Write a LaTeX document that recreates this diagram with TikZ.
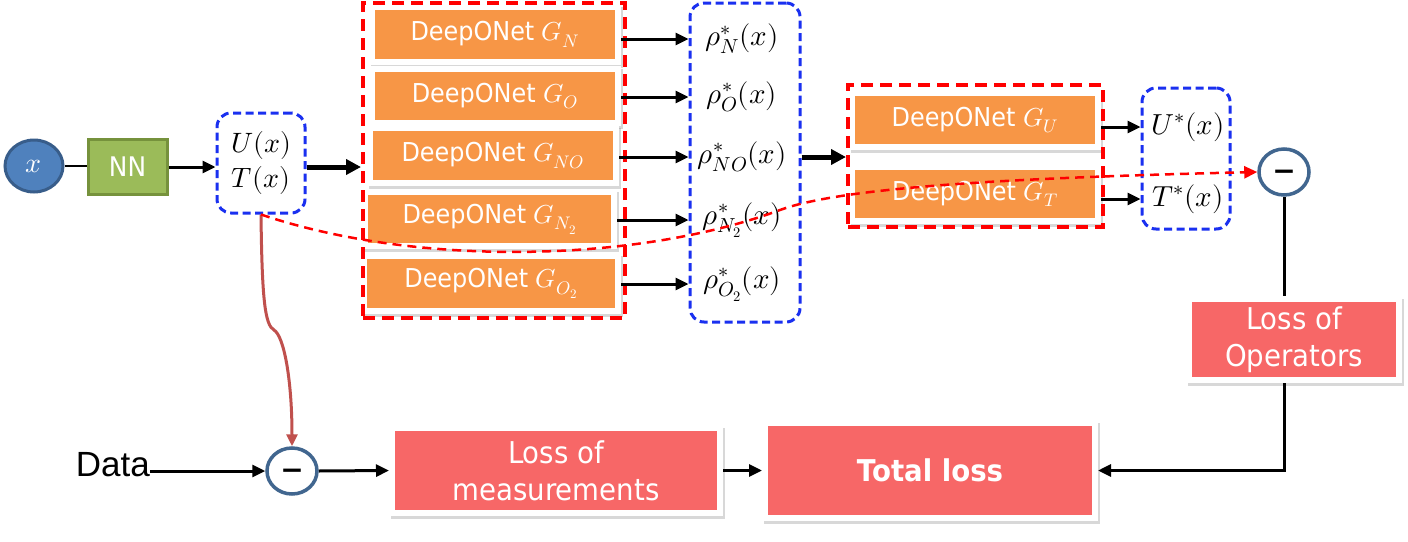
\documentclass[tikz,border=0pt]{standalone}
\usepackage{fontspec}
\usepackage{unicode-math}
\setmathfont{Latin Modern Math}
\usetikzlibrary{arrows.meta,shapes.geometric,shadows}
\newfontfamily\tah{DejaVu Sans}[FakeStretch=0.92]
\newfontfamily\arl{Liberation Sans}
\newfontfamily\djv{DejaVu Sans}
\definecolor{dorange}{HTML}{F79646}
\definecolor{lossred}{HTML}{F76767}
\definecolor{nngreen}{HTML}{9BBB59}
\definecolor{nnborder}{HTML}{76923C}
\definecolor{xblue}{HTML}{4F81BD}
\definecolor{xborder}{HTML}{385D8A}
\definecolor{minb}{HTML}{41668F}
\definecolor{dblue}{HTML}{1A30F0}
\definecolor{brownred}{HTML}{C0504D}
\tikzset{
  shad/.style={drop shadow={shadow xshift=1.5pt,shadow yshift=-2.5pt,opacity=0.25,fill=black!60,draw=black!60,line width=6pt}},
  dbox/.style={rectangle, fill=dorange, draw=white, line width=6pt, inner sep=0pt, shad, text=white, font=\tah\fontsize{26}{30}\selectfont},
  lbox/.style={rectangle, fill=lossred, draw=white, line width=6pt, inner sep=0pt, shad, text=white, align=center, font=\tah\fontsize{30}{37}\selectfont},
  redframe/.style={rectangle, draw=red, line width=4pt, dash pattern=on 12pt off 7pt, inner sep=0pt},
  blueframe/.style={rectangle, draw=dblue, line width=3pt, dash pattern=on 8pt off 4.5pt, rounded corners=14pt, inner sep=0pt},
  mlabel/.style={font=\fontsize{29}{32}\selectfont, inner sep=0pt},
  arr/.style={line width=3pt, -{Triangle[length=13pt,width=12pt]}},
  thickarr/.style={line width=5pt, -{Triangle[length=15pt,width=15pt]}},
  minusc/.style={ellipse, draw=minb, line width=3.5pt, fill=white, minimum width=50pt, minimum height=46pt, inner sep=0pt, font=\djv\bfseries\fontsize{28}{28}\selectfont},
}
\begin{document}
\begin{tikzpicture}[x=1pt,y=-1pt]
\useasboundingbox[fill=white] (0,0) rectangle (1408,541);
% input and network
\node[ellipse, fill=xblue, draw=xborder, line width=3pt, minimum width=58pt, minimum height=52pt, inner sep=0pt, text=white, font=\fontsize{28}{30}\selectfont] (xin) at (34,166) {$x$};
\node[rectangle, fill=nngreen, draw=nnborder, line width=3pt, minimum width=79pt, minimum height=55pt, inner sep=0pt, text=white, font=\tah\fontsize{27}{30}\selectfont] (nn) at (127.5,167) {NN};
\node[blueframe, minimum width=88pt, minimum height=100pt, align=center, font=\fontsize{28}{35}\selectfont] (ut) at (261,163) {$U(x)$\\$T(x)$};
\draw[line width=2.5pt] (xin.east) -- (xin.east -| nn.west);
\draw[arr] (nn.east) -- (nn.east -| ut.west);
% first DeepONet group
\node[dbox, minimum width=246pt, minimum height=55pt] (gn) at (495,34.5) {DeepONet $G_N$};
\node[dbox, minimum width=246pt, minimum height=54pt] (go) at (495,96) {DeepONet $G_O$};
\node[dbox, minimum width=246pt, minimum height=55pt] (gno) at (493,155.5) {DeepONet $G_{NO}$};
\node[dbox, minimum width=249pt, minimum height=54pt] (gn2) at (489.5,219) {DeepONet $G_{N_2}$};
\node[dbox, minimum width=254pt, minimum height=55pt] (go2) at (491,283.5) {DeepONet $G_{O_2}$};
\node[redframe, minimum width=262pt, minimum height=315pt] (red1) at (494,160.5) {};
\draw[thickarr] (ut.east |- nn.east) -- (nn.east -| red1.west);
% rho outputs
\node[blueframe, minimum width=110pt, minimum height=319pt] (rho) at (745,162.5) {};
\node[mlabel] (rN) at (742,39) {$\rho^*_N(x)$};
\node[mlabel] (rO) at (742,97) {$\rho^*_O(x)$};
\node[mlabel] (rNO) at (742,157) {$\rho^*_{NO}(x)$};
\node[mlabel] (rN2) at (742,220) {$\rho^*_{N_2}(x)$};
\node[mlabel] (rO2) at (742,284) {$\rho^*_{O_2}(x)$};
\draw[arr] (rN -| gn.east) -- (rN -| rho.west);
\draw[arr] (rO -| go.east) -- (rO -| rho.west);
\draw[arr] (rNO -| gno.east) -- (rNO -| rho.west);
\draw[arr] (rN2 -| gn2.east) -- (rN2 -| rho.west);
\draw[arr] (rO2 -| go2.east) -- (rO2 -| rho.west);
% second DeepONet group
\node[dbox, minimum width=246pt, minimum height=54pt] (gu) at (975,120) {DeepONet $G_U$};
\node[dbox, minimum width=246pt, minimum height=54pt] (gt) at (975,194) {DeepONet $G_T$};
\node[redframe, minimum width=255pt, minimum height=142pt] (red2) at (975.5,156) {};
\draw[thickarr] (rNO -| rho.east) -- (rNO -| red2.west);
\node[blueframe, minimum width=88pt, minimum height=141pt] (uts) at (1186,158.5) {};
\node[mlabel] (us) at (1188,127) {$U^*(x)$};
\node[mlabel] (ts) at (1188,199) {$T^*(x)$};
\draw[arr] (us -| gu.east) -- (us -| uts.west);
\draw[arr] (ts -| gt.east) -- (ts -| uts.west);
% losses
\node[minusc] (m2) at (1284,172) {\raisebox{-0.3em}[0pt][0pt]{−}};
\node[minusc] (m1) at (292,471) {\raisebox{-0.3em}[0pt][0pt]{−}};
\node[lbox, minimum width=210pt, minimum height=81pt] (lo) at (1294,339.5) {Loss of\\Operators};
\node[lbox, minimum width=328pt, minimum height=85pt] (lm) at (556,470.5) {Loss of\\measurements};
\node[lbox, minimum width=330pt, minimum height=95pt, font=\tah\bfseries\fontsize{30}{36}\selectfont] (tl) at (930,470.5) {Total loss};
\node[font=\arl\fontsize{35}{40}\selectfont, inner sep=0pt, anchor=east] (data) at (150,465) {Data};
\draw[arr] (data.east |- m1) -- (m1.west);
\draw[arr] (m1.east) -- (lm.west);
\draw[arr] (lm.east) -- (tl.west);
\draw[line width=3pt] (m2.south) -- (m2.south |- lo.north);
\draw[arr] (m2 |- lo.south) |- (tl.east);
% curves
\draw[brownred, line width=3pt, -{Triangle[length=12pt,width=11pt]}] (ut.south) .. controls (262,300) and (265,325) .. (274,330) .. controls (284,336) and (292,380) .. (m1.north);
\draw[red, line width=2.5pt, dash pattern=on 9pt off 6pt, -{Triangle[length=13pt,width=12pt]}] (ut.south) .. controls (420,268) and (640,262) .. (780,210) .. controls (840,188) and (1000,178) .. (m2.west);
\end{tikzpicture}
\end{document}
